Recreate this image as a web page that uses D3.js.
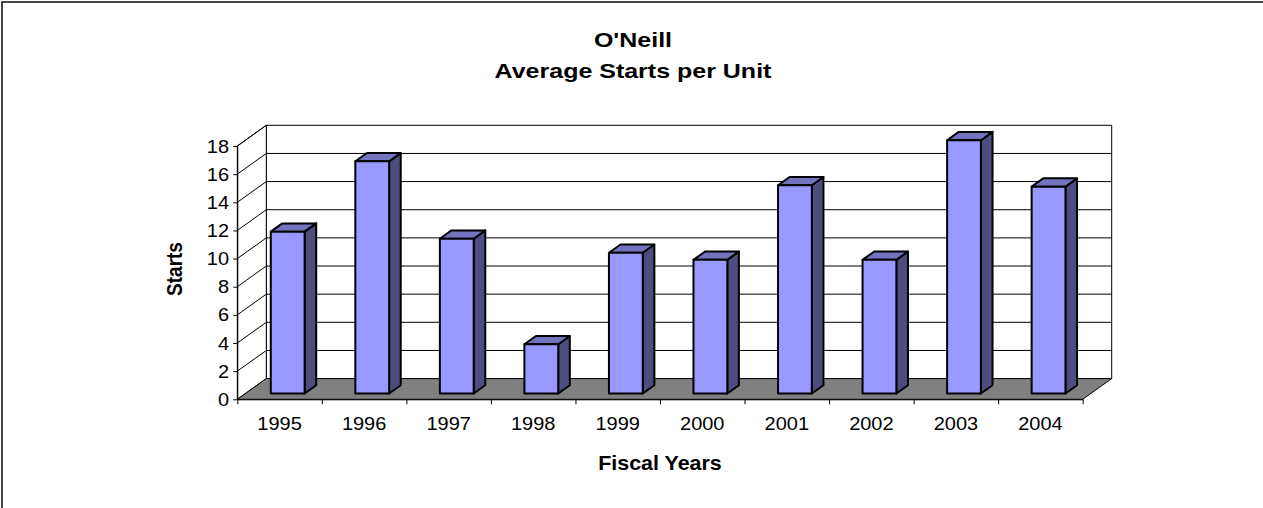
<!DOCTYPE html>
<html><head><meta charset="utf-8">
<script src="https://cdnjs.cloudflare.com/ajax/libs/d3/7.8.5/d3.min.js"></script>
<style>
body{margin:0;background:#fff}
svg{display:block}
text{font-family:"Liberation Sans",Arial,sans-serif;fill:#000}
</style>
</head><body>
<script>
const years = ["1995","1996","1997","1998","1999","2000","2001","2002","2003","2004"];
const starts = [11.5,16.5,11,3.5,10,9.5,14.8,9.5,18,14.7];
const yTicks = [0,2,4,6,8,10,12,14,16,18];
const titleLines = ["O'Neill","Average Starts per Unit"];
const xTitle = "Fiscal Years";
const yTitle = "Starts";

const W = 1263, H = 508;
const x0 = 237.3, x1 = 1082.7; // front floor edge
const yBase = 399.3, yTop = 146;
const DX = 29, DY = -20.7;     // depth vector
const f0 = 0.28, f1 = 0.68;    // bar depth span

const svg = d3.select("body").append("svg").attr("width", W).attr("height", H);

// frame
svg.append("rect").attr("x", 2).attr("y", 2).attr("width", W + 20).attr("height", H + 20)
  .attr("fill", "#fff").attr("stroke", "#1a1a1a").attr("stroke-width", 1.6);

const x = d3.scaleBand().domain(years).range([x0, x1]).paddingInner(0).paddingOuter(0);
const y = d3.scaleLinear().domain([0, 18]).range([yBase, yTop]);
const xi = d3.scaleLinear().domain([0, years.length]).range([x0, x1]);

const pts = a => a.map(p => p.join(",")).join(" ");

// back wall
svg.append("polygon")
  .attr("points", pts([[x0+DX, y(18)+DY],[x1+DX, y(18)+DY],[x1+DX, yBase+DY],[x0+DX, yBase+DY]]))
  .attr("fill", "#fff").attr("stroke", "#000").attr("stroke-width", 1);
// left wall
svg.append("polygon")
  .attr("points", pts([[x0, y(18)],[x0+DX, y(18)+DY],[x0+DX, yBase+DY],[x0, yBase]]))
  .attr("fill", "#fff").attr("stroke", "#000").attr("stroke-width", 1);

// gridlines
const g = svg.append("g").attr("stroke", "#000").attr("stroke-width", 1);
yTicks.filter(t => t > 0 && t < 18).forEach(t => {
  g.append("line").attr("x1", x0+DX).attr("x2", x1+DX).attr("y1", y(t)+DY).attr("y2", y(t)+DY);
});
yTicks.filter(t => t > 0).forEach(t => {
  g.append("line").attr("x1", x0).attr("y1", y(t)).attr("x2", x0+DX).attr("y2", y(t)+DY);
});

// floor
svg.append("polygon")
  .attr("points", pts([[x0, yBase],[x1, yBase],[x1+DX, yBase+DY],[x0+DX, yBase+DY]]))
  .attr("fill", "#808080").attr("stroke", "#000").attr("stroke-width", 1);

// bars
const bw = x.bandwidth() * 0.4;
const ddx = (f1 - f0) * DX, ddy = (f1 - f0) * DY;
const bars = svg.append("g").attr("stroke", "#000").attr("stroke-width", 2).attr("stroke-linejoin", "round");
years.forEach((yr, i) => {
  const v = starts[i];
  const bx = x(yr) + (x.bandwidth() - bw) / 2 + f0 * DX;
  const by0 = yBase + f0 * DY;
  const ht = y(0) - y(v);
  const byT = by0 - ht;
  bars.append("polygon")
    .attr("points", pts([[bx+bw, by0],[bx+bw, byT],[bx+bw+ddx, byT+ddy],[bx+bw+ddx, by0+ddy]]))
    .attr("fill", "#4d4d80");
  bars.append("polygon")
    .attr("points", pts([[bx, byT],[bx+bw, byT],[bx+bw+ddx, byT+ddy],[bx+ddx, byT+ddy]]))
    .attr("fill", "#7373bf");
  bars.append("rect").attr("x", bx).attr("y", byT).attr("width", bw).attr("height", ht)
    .attr("fill", "#9999ff");
});

// y axis
const TSX = 1.11, TFS = 18;
const ya = svg.append("g").attr("transform", `translate(${x0},0)`)
  .call(d3.axisLeft(y).tickValues(yTicks).tickSize(4).tickSizeOuter(0));
ya.select(".domain").attr("stroke", "#000");
ya.selectAll(".tick line").attr("stroke", "#000");
ya.selectAll("text").attr("font-size", TFS).attr("font-family", "Liberation Sans, Arial, sans-serif")
  .attr("fill", "#000").attr("x", -8.3 / TSX).attr("dy", "0.34em").attr("transform", `scale(${TSX},1)`);

// x axis ticks at band boundaries
const xt = svg.append("g").attr("transform", `translate(0,${yBase})`)
  .call(d3.axisBottom(xi).ticks(years.length).tickSize(5).tickSizeOuter(0).tickFormat(""));
xt.select(".domain").attr("stroke", "#000");
xt.selectAll(".tick line").attr("stroke", "#000");

// x labels
const xa = svg.append("g").attr("transform", `translate(0,${yBase})`)
  .call(d3.axisBottom(x).tickSize(0));
xa.select(".domain").remove();
xa.selectAll("text").attr("font-size", TFS).attr("font-family", "Liberation Sans, Arial, sans-serif")
  .attr("fill", "#000").attr("y", 17.5).attr("transform", `scale(${TSX},1)`);
xa.selectAll(".tick").each(function(d) {
  const cx = x(d) + x.bandwidth() / 2;
  d3.select(this).attr("transform", `translate(${cx},0)`);
});

// titles
titleLines.forEach((t, i) => {
  svg.append("text").attr("transform", `translate(633,${i === 0 ? 46.5 : 77.5}) scale(1.19,1)`)
    .attr("text-anchor", "middle").attr("font-weight", "bold").attr("font-size", 21).text(t);
});
svg.append("text").attr("transform", `translate(660,469.5) scale(1.1,1)`)
  .attr("text-anchor", "middle").attr("font-weight", "bold").attr("font-size", 19.5).text(xTitle);
svg.append("text").attr("transform", `translate(181.5,269) scale(1.15,1) rotate(-90)`)
  .attr("text-anchor", "middle").attr("font-weight", "bold").attr("font-size", 19).text(yTitle);
</script>
</body></html>
